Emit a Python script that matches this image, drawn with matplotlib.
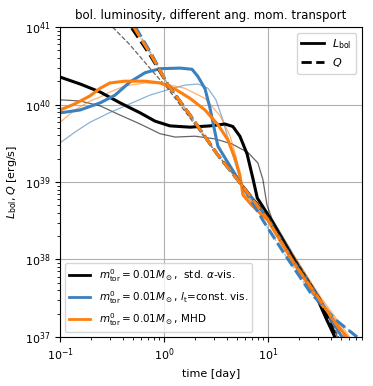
import numpy as np
import matplotlib
matplotlib.use('Agg')
import matplotlib.pyplot as plt
from matplotlib.lines import Line2D

# time [day] and luminosity [erg/s]
t_std = [0.1, 0.156, 0.243, 0.378, 0.59, 0.82, 1.14, 1.78, 2.77, 3.86, 4.6, 5.37, 6.3, 7.18, 7.9,
         10.4, 17.4, 30.3, 36.1, 44]
L_std = [2.26e40, 1.84e40, 1.45e40, 1.05e40, 7.8e39, 6.1e39, 5.3e39, 5.1e39, 5.3e39, 5.6e39, 5.2e39,
         3.9e39, 2.3e39, 1.1e39, 6.2e38, 3.5e38, 1.05e38, 3.0e37, 1.76e37, 1e37]

t_std_thin = [0.1, 0.156, 0.243, 0.378, 0.59, 0.916, 1.28, 1.99, 3.09, 4.5, 6.43, 8.0, 8.95, 9.8,
              10.9, 18.3, 31.6, 46.6]
L_std_thin = [1.15e40, 1.11e40, 9.6e39, 7.3e39, 5.6e39, 4.2e39, 3.8e39, 3.9e39, 3.6e39, 3.1e39, 2.4e39,
              1.76e39, 1.07e39, 5.0e38, 3.4e38, 1.05e38, 3.2e37, 1e37]

t_lt = [0.1, 0.156, 0.243, 0.338, 0.47, 0.656, 0.916, 1.43, 1.86, 2.12, 2.48, 2.77, 3.03, 3.3, 3.86,
        5.62, 10, 17.4, 31.6, 51.5]
L_lt = [7.8e39, 8.5e39, 1.05e40, 1.32e40, 1.95e40, 2.57e40, 2.9e40, 2.95e40, 2.85e40, 2.3e40, 1.6e40,
        9.0e39, 5.0e39, 2.9e39, 2.05e39, 9.1e38, 3.4e38, 9.8e37, 3.0e37, 1e37]

t_lt_thin = [0.1, 0.139, 0.194, 0.303, 0.47, 0.73, 1.14, 1.59, 2.12, 2.65, 3.16, 3.69, 4.3, 4.9, 5.62,
             10, 17.9, 31.6, 56]
L_lt_thin = [3.2e39, 4.4e39, 5.9e39, 7.9e39, 1.02e40, 1.32e40, 1.58e40, 1.78e40, 1.84e40, 1.62e40,
             1.15e40, 6.3e39, 3.0e39, 1.66e39, 9.1e38, 3.4e38, 1.05e38, 3.2e37, 1e37]

t_mhd = [0.1, 0.139, 0.194, 0.243, 0.303, 0.42, 0.656, 0.916, 1.28, 1.78, 2.48, 3.3, 4.12, 4.9, 5.37,
         5.75, 7.0, 10, 17.4, 31.6, 57.5]
L_mhd = [8.5e39, 1.02e40, 1.29e40, 1.62e40, 1.9e40, 2.0e40, 2.0e40, 1.9e40, 1.58e40, 1.2e40, 8.5e39,
         5.5e39, 3.5e39, 1.9e39, 1.23e39, 6.8e38, 5.0e38, 3.2e38, 9.3e37, 2.8e37, 1e37]

t_mhd_thin = [0.1, 0.139, 0.194, 0.243, 0.303, 0.42, 0.656, 1.02, 1.59, 2.48, 3.45, 4.3, 4.9, 5.37,
              6.0, 10, 18.3, 32.5, 61]
L_mhd_thin = [5.9e39, 8.5e39, 1.11e40, 1.25e40, 1.45e40, 1.74e40, 1.9e40, 1.84e40, 1.62e40, 1.2e40,
              7.2e39, 4.0e39, 2.2e39, 1.07e39, 6.8e38, 3.5e38, 1.05e38, 3.2e37, 1e37]

# heating rate Q
t_Q = [0.49, 0.73, 1.09, 1.78, 3.24, 5.62, 9.8, 17.4, 31.6, 45]
Q_std = [9.7e40, 4.4e40, 1.8e40, 7.3e39, 2.3e39, 9.1e38, 3.5e38, 9.8e37, 3.0e37, 1e37]

t_Q_thin = [0.32, 0.47, 0.73, 1.09, 3.24, 5.62, 10.4, 18.3, 31.6, 48]
Q_thin = [1e41, 5.9e40, 2.95e40, 1.6e40, 2.3e39, 9.1e38, 3.5e38, 1.0e38, 3.2e37, 1e37]

t_Q_lt = [0.53, 0.75, 1.09, 1.78, 3.24, 5.62, 8.95, 14.6, 25.4, 44, 72]
Q_lt = [1e41, 4.6e40, 1.8e40, 7.3e39, 2.3e39, 9.1e38, 3.2e38, 1.15e38, 3.8e37, 1.7e37, 1e37]

t_Q_mhd = [0.51, 0.74, 1.09, 1.78, 3.24, 5.62, 9.8, 17.4, 31.6, 55]
Q_mhd = [1e41, 4.5e40, 1.8e40, 7.3e39, 2.3e39, 9.1e38, 3.4e38, 9.5e37, 3.0e37, 1e37]

c_std = 'black'
c_lt = '#3b80bf'
c_mhd = '#ff7f0e'
lw_thick = 2.2
lw_thin = 0.9

fig = plt.figure(figsize=(3.73, 3.86), dpi=100)
ax = fig.add_axes([0.161, 0.127, 0.809, 0.803])

# thin (faint) models
ax.plot(t_std_thin, L_std_thin, color=c_std, lw=lw_thin, alpha=0.6)
ax.plot(t_lt_thin, L_lt_thin, color=c_lt, lw=lw_thin, alpha=0.6)
ax.plot(t_mhd_thin, L_mhd_thin, color=c_mhd, lw=lw_thin, alpha=0.6)
ax.plot(t_Q_thin, Q_thin, color=c_std, lw=lw_thin, ls='--', alpha=0.6)
ax.plot(t_Q_lt, Q_lt, color=c_lt, lw=lw_thin, ls='--', alpha=0.5)
ax.plot(t_Q_mhd, Q_mhd, color=c_mhd, lw=lw_thin, ls='--', alpha=0.5)

# thick models
ax.plot(t_std, L_std, color=c_std, lw=lw_thick)
ax.plot(t_lt, L_lt, color=c_lt, lw=lw_thick)
ax.plot(t_mhd, L_mhd, color=c_mhd, lw=lw_thick)
ax.plot(t_Q, Q_std, color=c_std, lw=lw_thick, ls='--')
ax.plot(t_Q_lt, Q_lt, color=c_lt, lw=lw_thick, ls='--')
ax.plot(t_Q_mhd, Q_mhd, color=c_mhd, lw=lw_thick, ls='--')

ax.set_xscale('log')
ax.set_yscale('log')
ax.set_xlim(0.1, 80)
ax.set_ylim(1e37, 1e41)
ax.grid(True, which='major', color='#b0b0b0', lw=0.8)
ax.tick_params(labelsize=8)
ax.set_xlabel('time [day]', fontsize=8)
ax.set_ylabel(r'$L_{\rm bol}, Q$ [erg/s]', fontsize=8)
ax.set_title('bol. luminosity, different ang. mom. transport', fontsize=8.5)

h1 = [Line2D([], [], color='black', lw=2), Line2D([], [], color='black', lw=2, ls='--')]
leg1 = ax.legend(h1, [r'$L_{\rm bol}$', r'$Q$'], loc='upper right', fontsize=8)
ax.add_artist(leg1)

h2 = [Line2D([], [], color=c_std, lw=2), Line2D([], [], color=c_lt, lw=2),
      Line2D([], [], color=c_mhd, lw=2)]
labels2 = [r'$m^0_{\rm tor}=0.01M_\odot$,  std. $\alpha$-vis.',
           r'$m^0_{\rm tor}=0.01M_\odot$, $l_{\rm t}$=const. vis.',
           r'$m^0_{\rm tor}=0.01M_\odot$, MHD']
ax.legend(h2, labels2, loc='lower left', fontsize=7.5)

fig.savefig('out.png', dpi=100)
